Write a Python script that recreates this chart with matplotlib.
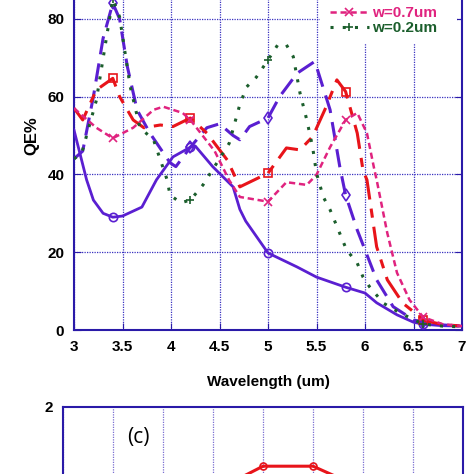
import matplotlib

matplotlib.use("Agg")
import matplotlib.pyplot as plt
from matplotlib.patches import Rectangle

plt.rcParams["font.family"] = ["Liberation Sans", "DejaVu Sans"]
plt.rcParams["font.weight"] = "bold"

# panel (b): QE% vs wavelength, five widths
wl_a = [3.0, 3.13, 3.2, 3.3, 3.4, 3.5, 3.7, 3.85, 4.02, 4.2, 4.25, 4.43, 4.64, 4.71, 4.77,
        5.0, 5.3, 5.5, 5.8, 6.0, 6.12, 6.33, 6.5, 6.6, 6.8, 7.0]
qe_a = [51.4, 38.6, 33.4, 30.0, 29.0, 29.3, 31.6, 38.6, 44.5, 47.0, 47.3, 42.0, 36.8, 31.0, 28.0,
        19.8, 16.2, 13.6, 11.0, 9.5, 7.0, 3.9, 2.0, 1.5, 1.1, 1.0]

wl_b = [3.0, 3.09, 3.2, 3.3, 3.4, 3.47, 3.55, 3.65, 3.78, 3.99, 4.05, 4.2, 4.37, 4.5, 4.64,
        4.71, 4.81, 5.0, 5.12, 5.3, 5.48, 5.5, 5.64, 5.74, 5.8, 5.92, 6.0, 6.12, 6.29, 6.5,
        6.6, 6.8, 7.0]
qe_b = [44.0, 46.0, 60.0, 75.0, 84.0, 80.0, 67.7, 56.6, 50.7, 43.0, 42.0, 47.0, 52.0, 53.0, 50.0,
        48.9, 52.3, 54.5, 60.0, 66.0, 69.0, 67.7, 56.6, 42.0, 34.7, 25.7, 20.6, 12.9, 6.0, 2.6,
        2.0, 1.3, 1.0]

wl_c = [3.0, 3.09, 3.23, 3.4, 3.47, 3.61, 3.72, 3.89, 4.02, 4.2, 4.37, 4.58, 4.71, 5.0, 5.19,
        5.33, 5.46, 5.6, 5.71, 5.8, 5.92, 5.98, 6.02, 6.12, 6.23, 6.39, 6.57, 6.6, 6.8, 7.0]
qe_c = [57.0, 54.0, 61.7, 64.7, 60.0, 54.0, 52.0, 52.7, 52.3, 54.5, 50.6, 43.7, 36.8, 40.3, 46.8,
        46.3, 49.7, 57.4, 64.3, 61.3, 50.6, 41.0, 38.6, 21.4, 12.9, 6.9, 3.3, 2.5, 1.4, 1.0]

wl_d = [3.0, 3.23, 3.4, 3.61, 3.82, 3.92, 4.12, 4.2, 4.45, 4.6, 4.71, 5.0, 5.19, 5.4, 5.5,
        5.64, 5.8, 5.92, 6.02, 6.09, 6.12, 6.23, 6.33, 6.46, 6.6, 6.8, 7.0]
qe_d = [57.0, 52.0, 49.3, 52.0, 56.6, 57.4, 55.8, 54.0, 46.0, 38.5, 34.2, 33.0, 38.0, 37.3, 39.9,
        47.0, 54.0, 55.8, 50.6, 42.0, 38.6, 24.9, 14.7, 7.7, 3.3, 1.5, 1.0]

wl_e = [3.0, 3.08, 3.23, 3.34, 3.4, 3.47, 3.58, 3.68, 3.82, 3.96, 3.99, 4.1, 4.2, 4.33, 4.6,
        4.71, 4.78, 4.88, 5.0, 5.1, 5.19, 5.26, 5.33, 5.4, 5.46, 5.5, 5.57, 5.64, 5.77, 5.81,
        5.92, 5.98, 6.05, 6.19, 6.36, 6.6, 6.8, 7.0]
qe_e = [44.0, 45.5, 59.0, 76.0, 85.0, 80.5, 62.5, 52.0, 48.9, 38.6, 34.7, 32.7, 33.4, 37.3, 48.0,
        58.0, 62.5, 65.0, 69.4, 73.3, 73.3, 70.3, 60.9, 54.0, 47.0, 40.3, 34.2, 30.9, 23.0, 20.6,
        17.2, 13.6, 11.0, 6.9, 4.4, 1.5, 1.0, 0.8]

marker_wl = [3.4, 4.2, 5.0, 5.8, 6.6]
# only the last two legend entries are visible in the crop
legend_labels = ["w=0.7um", "w=0.2um"]

# panel (c): only the top of it is visible
c_x = [3, 4, 5, 6]
c_y = [1.47, 1.63, 1.63, 1.49]

purple = "#5a1fd1"
red = "#e8141a"
magenta = "#e0237f"
green = "#1b5e2c"
spine = "#2a1aa8"
grid = "#3a32c0"


def marks(xs):
    return [i for i, x in enumerate(xs) if x in marker_wl]


fig = plt.figure(figsize=(4.74, 4.74), dpi=100)

ax = fig.add_axes([74 / 474, 144 / 474, 388 / 474, 389 / 474])
series = [
    (wl_a, qe_a, purple, "-", "o", 2.0),
    (wl_b, qe_b, purple, (0, (6, 3)), "d", 2.2),
    (wl_c, qe_c, red, (0, (8, 3, 3, 3)), "s", 2.2),
    (wl_d, qe_d, magenta, (0, (2.5, 1.5)), "x", 1.8),
    (wl_e, qe_e, green, (0, (1, 3)), "+", 2.2),
]
lines = []
for xs, ys, col, ls, mk, lw in series:
    ln, = ax.plot(xs, ys, color=col, linestyle=ls, linewidth=lw, marker=mk,
                  markevery=marks(xs), markersize=6, markerfacecolor="none",
                  markeredgewidth=1.2, zorder=3)
    lines.append(ln)

ax.set_xlim(3, 7)
ax.set_ylim(0, 100)
ax.set_xticks([3, 3.5, 4, 4.5, 5, 5.5, 6, 6.5, 7])
ax.set_xticklabels(["3", "3.5", "4", "4.5", "5", "5.5", "6", "6.5", "7"])
ax.set_yticks([0, 20, 40, 60, 80])
ax.grid(True, color=grid, linestyle=(0, (1, 1)), linewidth=0.9)
ax.tick_params(direction="in", length=5, color=spine, labelsize=11, pad=7,
               right=True, top=True)
for s in ax.spines.values():
    s.set_color(spine)
    s.set_linewidth(1.5)
ax.set_xlabel("Wavelength (um)", fontsize=11, fontweight="bold", labelpad=15)
ax.set_ylabel("QE%", fontsize=12, fontweight="bold", labelpad=6)

# white legend box hides the grid in the corner
ax.add_patch(Rectangle((5.54, 73.8), 1.41, 30, facecolor="white", edgecolor="none",
                       zorder=2))
leg = ax.legend(lines[3:], legend_labels, loc="upper right", frameon=False,
                fontsize=11, handlelength=2.55, handletextpad=0.2,
                labelspacing=0.05, borderaxespad=0,
                bbox_to_anchor=(443 / 474, 1.0), bbox_transform=fig.transFigure)
for txt, ln in zip(leg.get_texts(), lines[3:]):
    txt.set_color(ln.get_color())
    txt.set_fontweight("bold")

bx = fig.add_axes([63 / 474, -253 / 474, 400 / 474, 320 / 474])
bx.plot(c_x, c_y, color=red, linewidth=2.2, marker="o", markersize=5,
        markerfacecolor="none", markeredgewidth=1.2)
bx.set_xlim(0, 8)
bx.set_ylim(0, 2)
bx.set_xticks(range(0, 9))
bx.set_xticklabels([])
bx.set_yticks([2])
bx.grid(True, axis="x", color="#7a6fd0", linestyle=(0, (1, 1)), linewidth=0.9)
bx.tick_params(direction="in", length=0, labelsize=11, pad=7)
for s in bx.spines.values():
    s.set_color(spine)
    s.set_linewidth(1.5)
bx.text(1.5, 1.81, "(c)", fontsize=15, fontweight="normal", ha="center", va="center",
        family=["Open Sans", "DejaVu Sans"])

fig.savefig("out.png", dpi=100)
